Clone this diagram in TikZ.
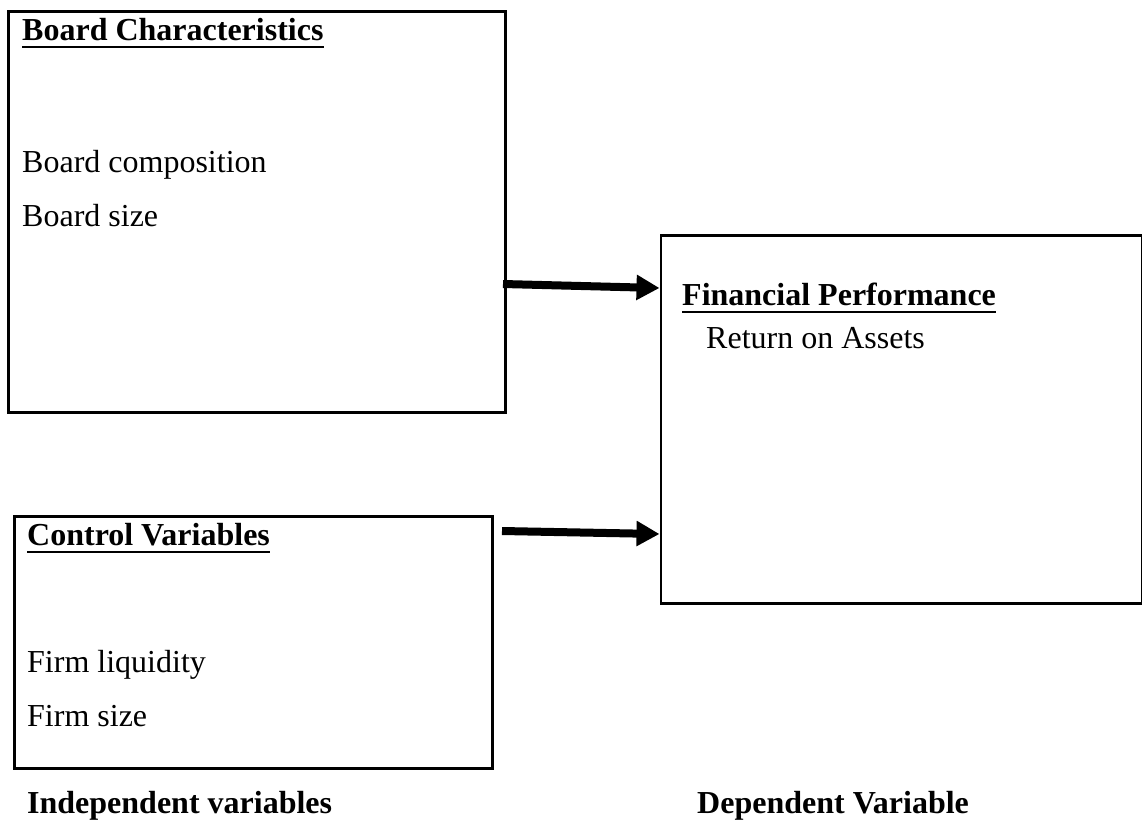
\documentclass[tikz,border=0pt]{standalone}
\usepackage{fontspec}
\setmainfont{Liberation Serif}
\usetikzlibrary{arrows.meta}
\begin{document}
\begin{tikzpicture}[x=1pt,y=-1pt,
  box/.style={draw,line width=2.5pt,inner sep=0pt,anchor=north west},
  txt/.style={inner sep=0pt,anchor=base west,font=\fontsize{32}{38}\selectfont},
  btxt/.style={txt,font=\fontsize{32}{38}\selectfont\bfseries},
  uline/.style={line width=2.6pt},
  bigarrow/.style={line width=8pt,-{Triangle[length=23pt,width=24pt]}}]
\useasboundingbox (0,0) rectangle (1142,825);
% boxes
\node[box,minimum width=497pt,minimum height=401pt] (b1) at (7,10) {};
\node[box,minimum width=478pt,minimum height=252pt] (b2) at (13,515) {};
\node[box,minimum width=481pt,minimum height=368pt] (b3) at (659.5,234) {};
% texts box 1
\node[btxt] (t1) at (22,40) {Board Characteristics};
\draw[uline] ([yshift=-7pt]t1.base west) -- ([yshift=-7pt]t1.base east);
\node[txt] (t1a) at (22,172) {Board composition};
\node[txt] (t1b) at (22,226) {Board size};
% texts box 3
\node[btxt] (t3) at (682,305) {Financial Performance};
\draw[uline] ([yshift=-7pt]t3.base west) -- ([yshift=-7pt]t3.base east);
\node[txt] (t3a) at (706,348) {Return on Assets};
% texts box 2
\node[btxt] (t2) at (27,545) {Control Variables};
\draw[uline] ([yshift=-7pt]t2.base west) -- ([yshift=-7pt]t2.base east);
\node[txt] (t2a) at (27,672) {Firm liquidity};
\node[txt] (t2b) at (27,726) {Firm size};
% bottom labels
\node[btxt] (l1) at (27,813) {Independent variables};
\node[btxt] (l2) at (697,813) {Dependent Variable};
% arrows
\coordinate (a1s) at (503,284);
\coordinate (a2s) at (502,531);
\draw[bigarrow] (a1s) -- (b3.west |- 0,288);
\draw[bigarrow] (a2s) -- (b3.west |- 0,534);
\end{tikzpicture}
\end{document}
